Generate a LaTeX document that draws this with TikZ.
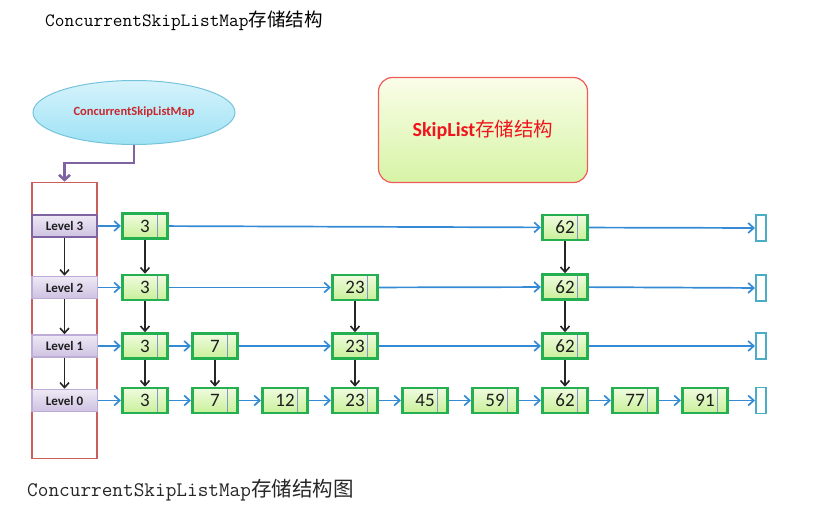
\documentclass[tikz,border=0pt]{standalone}
\usepackage{fontspec}
\setmainfont{Carlito}
\newfontfamily\cjk{Noto Sans CJK SC}
\newfontfamily\monof{Latin Modern Mono}
\usetikzlibrary{arrows.meta,shapes.geometric,calc}
\definecolor{nodegreen}{RGB}{36,176,80}
\definecolor{gtop}{RGB}{240,251,224}
\definecolor{gbot}{RGB}{200,240,152}
\definecolor{divider}{RGB}{130,150,200}
\definecolor{numtext}{RGB}{30,30,30}
\definecolor{arrowblue}{RGB}{52,138,212}
\definecolor{nullblue}{RGB}{75,172,198}
\definecolor{redbox}{RGB}{200,95,92}
\definecolor{purpleline}{RGB}{128,100,162}
\definecolor{lvlborder}{RGB}{188,172,214}
\definecolor{ltop}{RGB}{238,233,245}
\definecolor{lbot}{RGB}{206,194,226}
\definecolor{etop}{RGB}{214,243,251}
\definecolor{ebot}{RGB}{158,226,245}
\definecolor{eborder}{RGB}{118,196,220}
\definecolor{textred}{RGB}{200,40,45}
\definecolor{skred}{RGB}{240,90,90}
\definecolor{stop}{RGB}{250,253,232}
\definecolor{sbot}{RGB}{214,244,166}
\definecolor{skyred}{RGB}{240,20,30}
\begin{document}
\begin{tikzpicture}[x=1pt,y=-1pt,
  cell/.style={draw=nodegreen, line width=2.6pt, top color=gtop, bottom color=gbot,
    minimum width=45.5pt, minimum height=25pt, inner sep=0pt,
    font=\fontsize{19}{21}\selectfont, text=numtext,
    path picture={\draw[divider,line width=0.8pt]
      ([xshift=-10pt]path picture bounding box.north east) --
      ([xshift=-10pt]path picture bounding box.south east);}},
  level/.style={draw=lvlborder, line width=1.5pt, top color=ltop, bottom color=lbot,
    minimum width=65.5pt, minimum height=22pt, inner sep=0pt,
    font=\bfseries\fontsize{13}{15}\selectfont, text=numtext},
  toplevel/.style={level, draw=purpleline, line width=2pt},
  nullbox/.style={draw=nullblue, line width=1.6pt, fill=white,
    minimum width=10.5pt, minimum height=26pt, inner sep=0pt},
  harrow/.style={draw=arrowblue, line width=1.7pt, -{Straight Barb[length=5.5pt,width=10pt]}},
  varrow/.style={draw=black!85, line width=1.6pt, -{Straight Barb[length=5pt,width=9pt]}},
  parrow/.style={draw=purpleline, line width=2.6pt, -{Straight Barb[length=5pt,width=11pt]}},
]
\useasboundingbox (0,0) rectangle (815,513);

% titles
\node (title) [anchor=west, inner sep=0pt] at (45,21)
  {\monof\fontsize{18.8}{20}\selectfont ConcurrentSkipListMap{\cjk\fontsize{18.5}{20}\selectfont 存储结构}};
\node (caption) [anchor=west, inner sep=0pt, text=black!85] at (27,490)
  {\monof\fontsize{20.7}{22}\selectfont ConcurrentSkipListMap{\cjk\fontsize{20.5}{22}\selectfont 存储结构图}};

% ellipse
\node (map) [ellipse, draw=eborder, line width=1pt, top color=etop, bottom color=ebot,
  minimum width=202pt, minimum height=64pt, inner sep=0pt,
  font=\bfseries\fontsize{12.5}{14}\selectfont, text=textred] at (134,112.5) {ConcurrentSkipListMap};

% skiplist box
\node (sk) [rounded corners=14pt, draw=skred, line width=1.2pt, top color=stop, bottom color=sbot,
  minimum width=209pt, minimum height=105pt, inner sep=0pt, text=skyred] at (483,130)
  {\bfseries\fontsize{20}{22}\selectfont SkipList{\cjk\mdseries\fontsize{19.5}{22}\selectfont 存储结构}};

% level array
\node (array) [draw=redbox, line width=1.7pt, minimum width=65.5pt, minimum height=276pt, inner sep=0pt] at (64.5,320.5) {};
\draw[parrow] (map.south) -- ++(0,18) -| (array.north);

\node (L3) [toplevel] at (64.5,226) {Level 3};
\node (L2) [level] at (64.5,287.5) {Level 2};
\node (L1) [level] at (64.5,346) {Level 1};
\node (L0) [level] at (64.5,400.5) {Level 0};
\draw[varrow] (L3) -- (L2);
\draw[varrow] (L2) -- (L1);
\draw[varrow] (L1) -- (L0);

% level 3
\node (a3) [cell] at (145,226) {3};
\node (a62) [cell] at (565,227.5) {62};
\node (anull) [nullbox] at (761,228) {};
% level 2
\node (b3) [cell] at (145,287.5) {3};
\node (b23) [cell] at (355,287.5) {23};
\node (b62) [cell] at (565,287) {62};
\node (bnull) [nullbox] at (761,288) {};
% level 1
\node (c3) [cell] at (145,346) {3};
\node (c7) [cell] at (215,346) {7};
\node (c23) [cell] at (355,346) {23};
\node (c62) [cell] at (565,346) {62};
\node (cnull) [nullbox] at (761,346) {};
% level 0
\node (d3) [cell] at (145,400.5) {3};
\node (d7) [cell] at (215,400.5) {7};
\node (d12) [cell] at (285,400.5) {12};
\node (d23) [cell] at (355,400.5) {23};
\node (d45) [cell] at (425,400.5) {45};
\node (d59) [cell] at (495,400.5) {59};
\node (d62) [cell] at (565,400.5) {62};
\node (d77) [cell] at (635,400.5) {77};
\node (d91) [cell] at (705,400.5) {91};
\node (dnull) [nullbox] at (761,400.5) {};

% horizontal links
\draw[harrow] (L3) -- (a3);
\draw[harrow] (a3) -- (a62);
\draw[harrow] (a62) -- (anull);

\draw[harrow] (L2) -- (b3);
\draw[harrow] (b3) -- (b23);
\draw[harrow] (b23) -- (b62);
\draw[harrow] (b62) -- (bnull);

\draw[harrow] (L1) -- (c3);
\draw[harrow] (c3) -- (c7);
\draw[harrow] (c7) -- (c23);
\draw[harrow] (c23) -- (c62);
\draw[harrow] (c62) -- (cnull);

\draw[harrow] (L0) -- (d3);
\foreach \p/\q in {d3/d7,d7/d12,d12/d23,d23/d45,d45/d59,d59/d62,d62/d77,d77/d91,d91/dnull}
  \draw[harrow] (\p) -- (\q);

% vertical links
\foreach \p/\q in {a3/b3,b3/c3,c3/d3,c7/d7,b23/c23,c23/d23,a62/b62,b62/c62,c62/d62}
  \draw[varrow] (\p) -- (\q);
\end{tikzpicture}
\end{document}
